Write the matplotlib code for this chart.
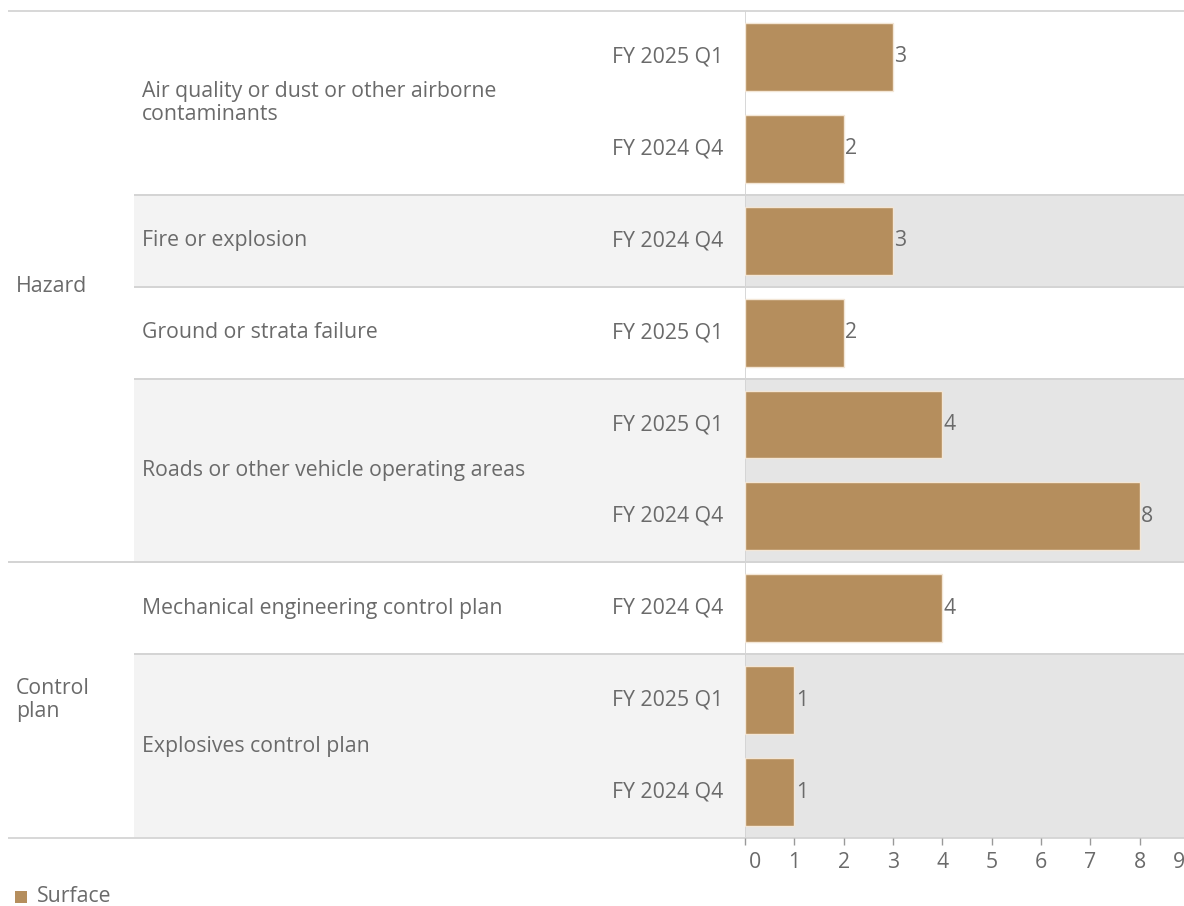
import textwrap
import matplotlib
matplotlib.use('Agg')
import matplotlib.pyplot as plt
from matplotlib.patches import Rectangle
from matplotlib.transforms import blended_transform_factory, ScaledTranslation

# data
groups = ['Hazard', 'Hazard', 'Hazard', 'Hazard', 'Control plan', 'Control plan']
categories = ['Air quality or dust or other airborne contaminants',
              'Fire or explosion',
              'Ground or strata failure',
              'Roads or other vehicle operating areas',
              'Mechanical engineering control plan',
              'Explosives control plan']
row_category = [0, 0, 1, 2, 3, 3, 4, 5, 5]
row_period = ['FY 2025 Q1', 'FY 2024 Q4', 'FY 2024 Q4', 'FY 2025 Q1',
              'FY 2025 Q1', 'FY 2024 Q4', 'FY 2024 Q4', 'FY 2025 Q1', 'FY 2024 Q4']
values = [3, 2, 3, 2, 4, 8, 4, 1, 1]
series_name = 'Surface'
x_ticks = [0, 1, 2, 3, 4, 5, 6, 7, 8, 9]

bar_color = '#b58e5d'
text_color = '#6a6a6a'
line_color = '#d4d4d4'
shade_label = '#f3f3f3'
shade_plot = '#e5e5e5'

plt.rcParams['font.family'] = ['Open Sans', 'DejaVu Sans']
fs = 15.3

W, H = 1184, 906
fig = plt.figure(figsize=(W / 100, H / 100), dpi=100)
x0, x9 = 745, 1189
top, bottom = 11, 838
ax = fig.add_axes([x0 / W, (H - bottom) / H, (x9 - x0) / W, (bottom - top) / H])
n = len(values)
ax.set_ylim(n - 0.5, -0.5)
ax.set_xlim(0, 9)
ax.patch.set_visible(False)

trans = blended_transform_factory(fig.transFigure, ax.transData)

# category spans
spans = []
for c in range(len(categories)):
    rows = [i for i, rc in enumerate(row_category) if rc == c]
    spans.append((min(rows) - 0.5, max(rows) + 0.5))

for c, (a, b) in enumerate(spans):
    if c % 2 == 1:
        ax.add_patch(Rectangle((134 / W, a), (x0 - 134) / W, b - a, transform=trans,
                               facecolor=shade_label, edgecolor='none', zorder=0, clip_on=False))
        ax.axhspan(a, b, xmin=0, xmax=1, facecolor=shade_plot, edgecolor='none', zorder=0)
    ax.text(142 / W, (a + b) / 2, textwrap.fill(categories[c], 38), transform=trans,
            ha='left', va='center', fontsize=fs, color=text_color, linespacing=1.1, zorder=5)

# group spans
group_names = []
for g in groups:
    if g not in group_names:
        group_names.append(g)
group_bounds = []
for g in group_names:
    cs = [c for c, gg in enumerate(groups) if gg == g]
    group_bounds.append((spans[cs[0]][0], spans[cs[-1]][1]))
    ax.text(16 / W, (group_bounds[-1][0] + group_bounds[-1][1]) / 2, textwrap.fill(g, 10),
            transform=trans, ha='left', va='center', fontsize=fs, color=text_color,
            linespacing=1.1, zorder=5)

# separator lines
group_edges = set()
for a, b in group_bounds:
    group_edges.add(a)
    group_edges.add(b)
for a, b in spans:
    for y in (a, b):
        xs = 8 / W if y in group_edges else 134 / W
        ax.plot([xs, 1], [y, y], transform=trans, color=line_color, lw=1.3,
                clip_on=False, zorder=1, solid_capstyle='butt')

# bars
ypos = list(range(n))
ax.barh(ypos, values, height=0.74, color=bar_color, edgecolor='#f3e6d6', linewidth=1, zorder=3)
for y, v, p in zip(ypos, values, row_period):
    ax.text(v + 0.03, y, str(v), ha='left', va='center', fontsize=fs, color=text_color, zorder=4)
    ax.text(612 / W, y, p, transform=trans, ha='left', va='center', fontsize=fs,
            color=text_color, zorder=5)

ax.axvline(0, color=line_color, lw=1.3, zorder=2)
for s in ax.spines.values():
    s.set_visible(False)
ax.set_yticks([])
ax.set_xticks(x_ticks)
ax.set_xticklabels([str(t) for t in x_ticks])
ax.tick_params(axis='x', length=5, width=1, color='#999999', labelcolor=text_color,
               labelsize=fs, pad=5)
# first and last tick labels are pushed inward, as in the original
lbls = ax.get_xticklabels()
lbls[0].set_horizontalalignment('left')
lbls[0].set_transform(lbls[0].get_transform() + ScaledTranslation(0.04, 0, fig.dpi_scale_trans))
lbls[-1].set_horizontalalignment('right')
lbls[-1].set_transform(lbls[-1].get_transform() + ScaledTranslation(-0.04, 0, fig.dpi_scale_trans))

# legend
fig.patches.append(Rectangle((15 / W, (H - 903) / H), 12 / W, 12 / H, transform=fig.transFigure,
                             facecolor=bar_color, edgecolor='none'))
fig.text(37 / W, (H - 897) / H, series_name, ha='left', va='center', fontsize=fs, color=text_color)

fig.savefig('out.png', dpi=100)
